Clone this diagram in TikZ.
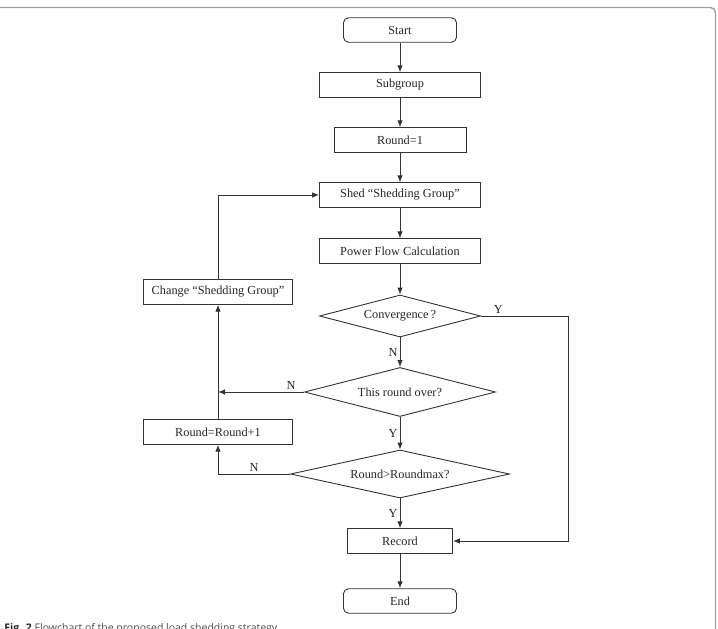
\documentclass[tikz,border=0pt]{standalone}
\usepackage{fontspec}
\setmainfont{Liberation Serif}
\newfontfamily\capfont{Open Sans}
\usepackage{tikz}
\usetikzlibrary{
  % node shapes for the decisions
  shapes.geometric,%
  arrows.meta,%
  calc,%
  positioning
}
\tikzset{>={Latex[length=7pt,width=5.5pt]}}
\tikzset{font=\fontsize{12.3}{14}\selectfont}
\tikzset{procbox/.style={draw, rectangle, minimum height=24.5pt, inner sep=0pt,
    text=black!85},
  termbox/.style={procbox, rounded corners=5pt},
  decide/.style={draw, diamond, aspect=3.5, inner sep=0pt, text=black!85},
  yn/.style={text=black!85, inner sep=2pt}}

\begin{document}
\begin{tikzpicture}[x=1pt, y=-1pt, line width=0.9pt, color=black!80]
          \useasboundingbox (0,0) rectangle (718,629);
          \begin{scope}
            \clip (0,0) rectangle (718,629);
            % outer frame of the figure
            \draw[gray!75, line width=1.4pt, rounded corners=5pt]
              (-10,7.5) -- (715.5,7.5) -- (715.5,650);
            % caption
            \node[anchor=base west, inner sep=0pt, text=black!70,
              font=\capfont\fontsize{10.5}{12}\selectfont] (cap) at (4,631)
              {\textbf{\color{black!85}Fig. 2} Flowchart of the proposed load shedding strategy};
          \end{scope}
          % main column
          \node[termbox, minimum width=113pt] (start) at (400,30) {Start};
          \node[procbox, minimum width=161pt] (subgroup) at (400,85) {Subgroup};
          \node[procbox, minimum width=132pt] (roundone) at (400,140) {Round=1};
          \node[procbox, minimum width=161pt] (shed) at (400,195) {Shed “Shedding Group”};
          \node[procbox, minimum width=161pt] (pfc) at (400,251) {Power Flow Calculation};
          \node[decide, minimum width=161pt, minimum height=42pt] (conv) at (400,316) {Convergence\,?};
          \node[decide, minimum width=191pt, minimum height=49pt] (over) at (400,392) {This round over?};
          \node[decide, minimum width=219pt, minimum height=48pt] (rmax) at (400,474) {Round>Roundmax?};
          \node[procbox, minimum width=105pt] (record) at (400,541) {Record};
          \node[termbox, minimum width=113pt] (stop) at (400,601) {End};
          % left column
          \node[procbox, minimum width=149pt] (change) at (218,292) {Change “Shedding Group”};
          \node[procbox, minimum width=149pt] (incr) at (218,432) {Round=Round+1};
          \coordinate (yturn) at (568,316);
          % connectors
          \foreach \a/\b in {start/subgroup, subgroup/roundone, roundone/shed,
            shed/pfc, pfc/conv, record/stop, incr/change}
            \draw[->] (\a) -- (\b);
          \draw[->] (conv) -- node[yn, left] {N} (over);
          \draw[->] (over) -- node[yn, left] {Y} (rmax);
          \draw[->] (rmax) -- node[yn, left] {Y} (record);
          \draw[->] (conv.east) -- node[yn, above, pos=0.2] {Y} (yturn) |- (record.east);
          \draw[->] (over.west) -- node[yn, above, pos=0.15] {N} (over.west -| incr);
          \draw[->] (rmax.west) -| node[yn, above, pos=0.25] {N} (incr.south);
          \draw[->] (change.north) |- (shed.west);
        \end{tikzpicture}
\end{document}
